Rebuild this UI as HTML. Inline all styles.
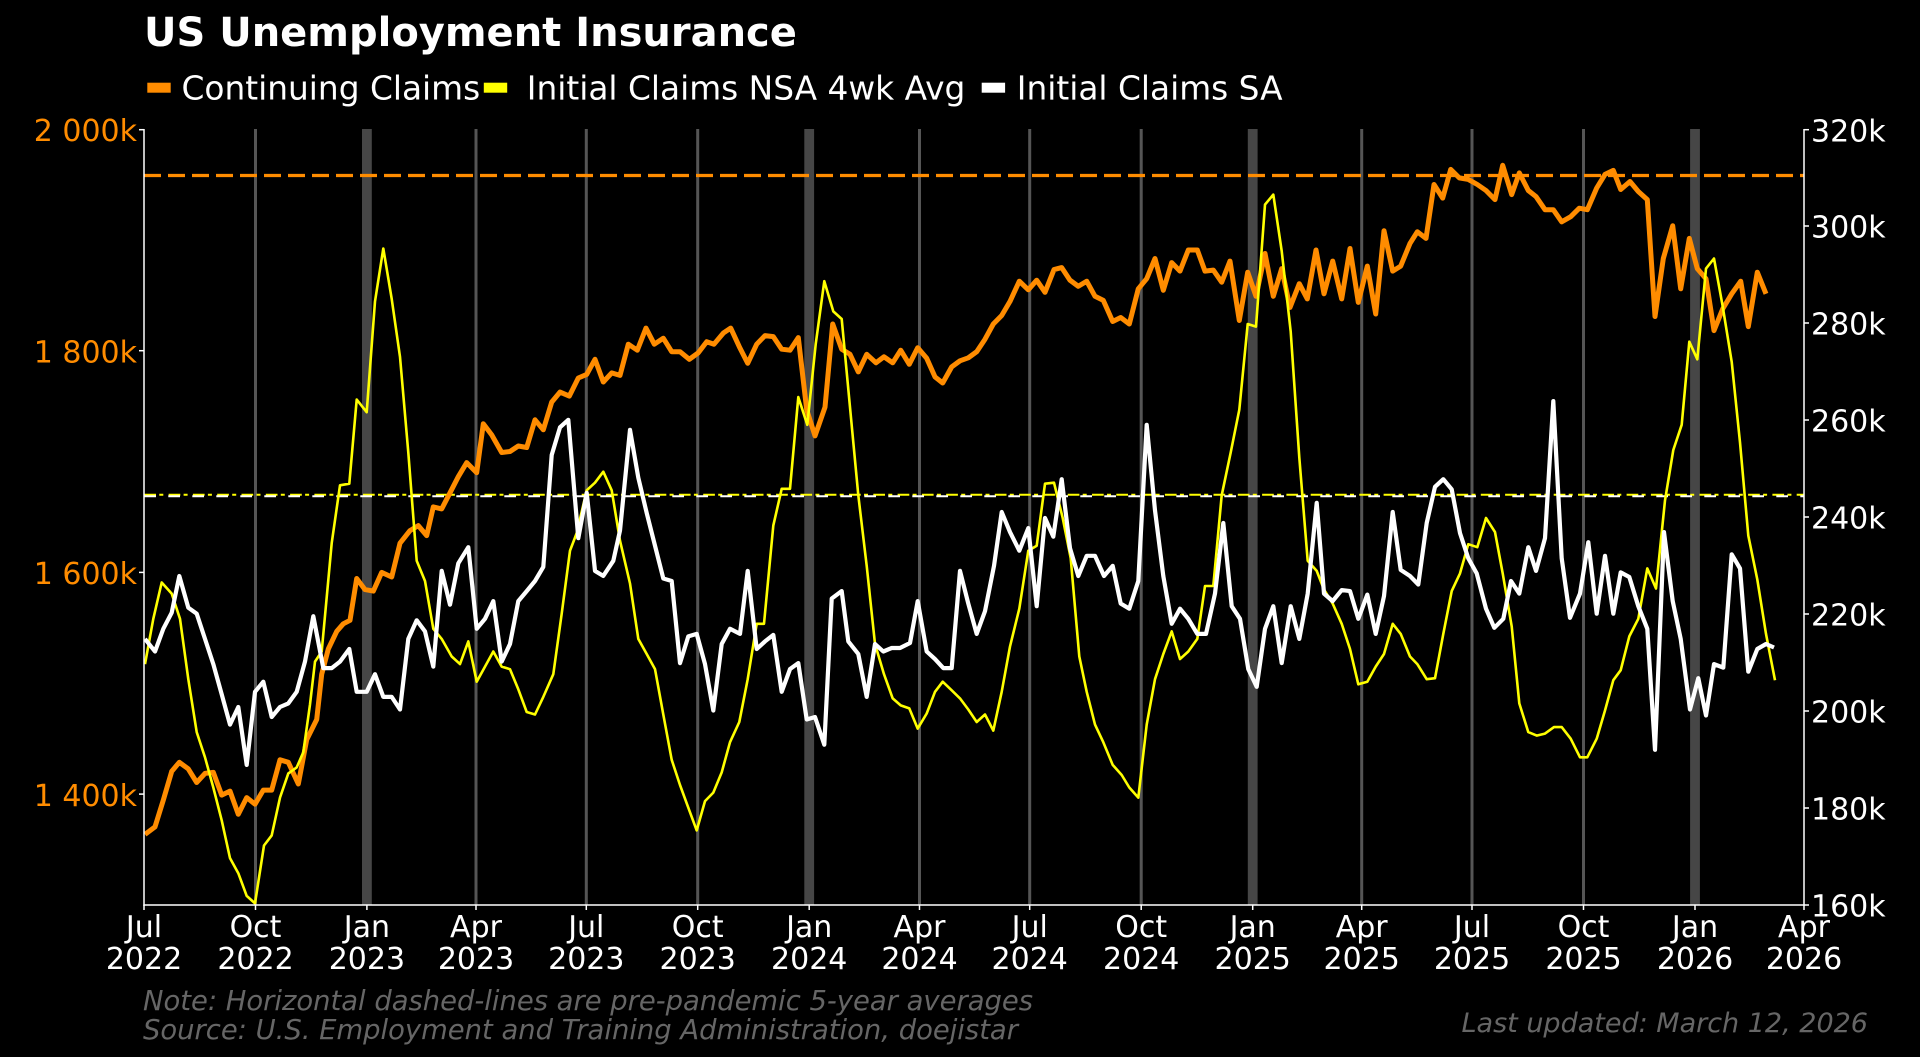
<!DOCTYPE html>
<html>
<head>
<meta charset="utf-8">
<style>
html,body{margin:0;padding:0;background:#000;}
svg{display:block;}
text{font-family:"DejaVu Sans","Liberation Sans",sans-serif;}
</style>
</head>
<body>
<svg width="1920" height="1057" viewBox="0 0 1920 1057" xmlns="http://www.w3.org/2000/svg">
<rect x="0" y="0" width="1920" height="1057" fill="#000"/>

<!-- Title -->
<text x="144" y="46" font-size="40" font-weight="bold" fill="#fff">US Unemployment Insurance</text>

<!-- Legend -->
<rect x="147.3" y="82.7" width="23.4" height="10" fill="#ff8c00"/>
<text x="181.5" y="99.3" font-size="32.8" fill="#fff">Continuing Claims</text>
<rect x="483.8" y="82.7" width="23.4" height="10" fill="#ffff00"/>
<text x="526.8" y="99.3" font-size="32.8" fill="#fff">Initial Claims NSA 4wk Avg</text>
<rect x="981.7" y="82.7" width="23.4" height="10" fill="#ffffff"/>
<text x="1016.8" y="99.3" font-size="32.8" fill="#fff">Initial Claims SA</text>

<!-- Quarterly gridlines -->
<g stroke="#555" stroke-width="3">
<line x1="255.5" y1="129" x2="255.5" y2="905"/>
<line x1="476" y1="129" x2="476" y2="905"/>
<line x1="586.3" y1="129" x2="586.3" y2="905"/>
<line x1="697.7" y1="129" x2="697.7" y2="905"/>
<line x1="919.5" y1="129" x2="919.5" y2="905"/>
<line x1="1029.7" y1="129" x2="1029.7" y2="905"/>
<line x1="1141.2" y1="129" x2="1141.2" y2="905"/>
<line x1="1361.7" y1="129" x2="1361.7" y2="905"/>
<line x1="1472" y1="129" x2="1472" y2="905"/>
<line x1="1583.5" y1="129" x2="1583.5" y2="905"/>
</g>
<!-- Year-end bars -->
<g fill="#464646">
<rect x="362" y="129" width="9.8" height="776"/>
<rect x="804.3" y="129" width="9.8" height="776"/>
<rect x="1247.8" y="129" width="9.8" height="776"/>
<rect x="1690.1" y="129" width="9.8" height="776"/>
</g>

<!-- Pre-pandemic averages -->
<line x1="144" y1="175.5" x2="1804" y2="175.5" stroke="#ff8c00" stroke-width="3.3" stroke-dasharray="17 7"/>
<line x1="144" y1="494.8" x2="1804" y2="494.8" stroke="#ffff00" stroke-width="2" stroke-dasharray="11.7 3.3 4 5.3" stroke-dashoffset="-0.3"/>
<line x1="144" y1="496.3" x2="1804" y2="496.3" stroke="#ffffff" stroke-width="2" stroke-dasharray="11.7 12.3" stroke-dashoffset="-0.3"/>

<!-- Continuing Claims -->
<polyline fill="none" stroke="#ff8c00" stroke-width="5" stroke-linejoin="round" stroke-linecap="butt" points="145,834.4 155,826.9 163.3,800.1 171.7,771.4 179.3,762.3 188.3,768.9 196.7,782.5 205,773.4 213.3,772.4 221.7,795.1 230,791.1 238.3,814.3 246.7,797.6 255,804.2 263.3,790.1 271.7,790.1 280,759.8 288.3,762.3 298.3,784 306.7,739.7 316.7,719.5 321.7,674.2 328.3,649 336.7,631.4 343.3,623.8 350,620.3 356.7,578.5 365,589.6 373.3,591.1 381.7,572.4 391.7,577 400,543.2 410,530.6 418.3,525.6 426.7,535.6 433.3,506.9 441.7,508.9 450,492.8 458.3,476.7 466.7,462.6 476.7,472.7 483.3,423.8 491.7,434.9 501.7,452.5 510,451.5 518.3,446 526.7,447.5 535,419.8 543.3,429.8 551.7,402.1 560,392.1 569.3,396.1 578.3,378 586.7,374.4 595,359.3 603.3,382 611.7,372.9 620,375.4 628.3,344.2 637.3,350.2 646,328.1 654.3,344.2 663.3,338.2 671.7,351.7 680,351.7 689.3,359.3 698.3,352.8 706.7,341.7 714,344.2 723.3,333.1 730.7,328.1 739.3,346.7 747.7,363.3 756.7,344.2 765,335.6 773.3,336.6 781.7,349.2 790,350.2 798.3,337.6 806.7,409.7 815,435.9 825,407.2 832.7,324 841.7,349.2 850,354.3 858.3,371.9 866.7,354.3 876,362.8 884,356.8 892.7,362.8 900.7,350.2 909.3,364.3 917.7,347.7 926.7,358.3 935,376.9 942.7,383 951.7,366.9 960,360.8 968.3,357.8 976.7,351.7 985,339.2 993.3,324 1001.7,315.5 1010,301.4 1019.3,281.2 1028.3,289.8 1036.7,280.2 1045,292.3 1054,269.6 1061.7,267.6 1070,280.2 1078.3,286.3 1086.7,281.2 1095,296.3 1103.3,300.4 1112.7,321.5 1120.7,317.5 1129.3,324 1138.3,288.8 1146.7,278.7 1155,258.5 1163.3,290.3 1171.7,262.6 1180,271.1 1188.3,250 1197.3,250 1205,271.1 1213.3,270.1 1221.7,282.2 1230,261.1 1239.3,320.5 1247.7,272.2 1256,296.3 1265,253.5 1273.3,296.3 1281.7,268.6 1290,307.4 1299.3,283.7 1307.3,298.9 1316,250 1324,293.8 1332.7,261.1 1341.7,298.9 1350,248.5 1358.3,302.4 1367.3,266.1 1375.7,314 1384,230.8 1392.7,271.1 1400.7,266.1 1410,243.4 1417.3,231.8 1426,238.4 1434,184.5 1442.7,198.1 1450.7,169.4 1459.3,177.9 1468.3,179.4 1477.3,184.5 1486,190.5 1495,199.6 1502.7,165.3 1511.7,194.6 1519.3,172.9 1528.3,190.5 1536,196.6 1545,209.7 1553.3,209.7 1561.7,221.8 1570.7,216.7 1579.3,208.2 1587.3,209.7 1596.7,188 1605,174.4 1613.3,170.4 1620.7,189.5 1630,181.5 1638.3,191.5 1647.3,199.6 1655,316.5 1663.3,258.5 1672.7,225.8 1680.7,288.8 1689.3,238.4 1697.3,268.6 1706,278.7 1714,330.6 1722.7,308.9 1731.7,293.8 1740.7,281.2 1748.3,326.6 1757.3,272.2 1766,293.8"/>

<!-- Initial Claims NSA 4wk Avg -->
<polyline fill="none" stroke="#ffff00" stroke-width="2.6" stroke-linejoin="round" points="145,664.1 153.3,618.8 161.7,582.5 171.7,593.6 180,618.8 188.3,679.2 196.7,732.1 205,757.3 213.3,787.5 221.7,820.3 230,858.1 238.3,873.2 246.7,895.9 255,903.4 264,845.5 271.7,835.4 280,797.6 288.3,773.4 296.7,767.4 303.3,752.3 310,704.4 315,661.6 321.7,651.5 331.7,543.2 340,485.3 349.3,483.7 356.7,399.6 366.7,412.2 375,301.4 383.3,248.5 391.7,298.9 400,356.8 408.3,452.5 416.7,560.8 425,581 433.3,628.8 441.7,638.9 451.7,656.5 460,664.1 468.3,641.4 476.7,681.7 485,666.6 493.3,651.5 501.7,666.6 510,669.2 518.3,689.3 526.7,712 535,714.5 543.3,696.9 553.3,674.2 561.7,613.7 570,550.7 576.7,533.1 586.7,490.3 595,482.7 603.3,471.7 611.7,490.3 620,540.7 630,583.5 638.3,638.9 646.7,654 655,669.1 663.3,714.5 671.7,759.8 680,785 688.3,807.7 696.7,830.4 705,801.1 713.3,792.6 721.7,772.4 730,742.2 739.3,722 747.7,679.2 756.7,623.8 764,623.8 773.3,525.6 781.7,488.8 790,488.8 798.3,397.1 807.3,424.8 815.7,344.2 824.3,281.2 833.3,311.4 841.7,319 850,407.2 858.3,495.3 866.7,565.9 875,644 884,674.2 892.7,698.4 900.7,705.4 909.3,708.4 917.7,728.6 926.7,713.5 935,691.8 942.7,681.7 951.7,690.3 960,698.4 968.3,709.5 976.7,722 985,714.5 993.3,730.6 1001.7,691.8 1010,646.5 1019.3,608.7 1028.3,550.7 1036.7,545.7 1045,483.7 1054,482.7 1062.7,518 1070.7,558.3 1079.3,656.5 1086.7,691.8 1095,724.6 1103.3,742.2 1112.7,764.9 1121.7,775 1129.3,787.5 1138.3,797.6 1146.7,724.6 1155,679.2 1163.3,654 1171.7,631.4 1180,659.1 1188.3,651.5 1197.3,638.9 1205,586 1213.3,586 1221.7,495.3 1230.7,452.5 1239.3,409.7 1247.7,324 1256,326.6 1265,204.6 1273.3,194.6 1281.7,251 1290.7,331.6 1299.3,457.5 1307.7,560.8 1316.7,570.9 1324,589.6 1332.7,603.6 1341.7,623.8 1350,649 1358.3,684.3 1367.3,681.7 1375.7,666.6 1384,654 1392.7,623.8 1400.7,633.9 1410,656.5 1417.3,664.1 1426.7,679.2 1435,678.2 1443.3,633.9 1451.7,591.1 1460,573.4 1468.3,544.2 1477.3,547.2 1486,518 1495,532.1 1502.7,573.4 1511.7,626.3 1519.3,703.4 1528.3,732.1 1536.7,735.6 1545,733.6 1554,727.1 1561.7,727.1 1570.7,738.7 1580,757.3 1587.3,757.3 1596.7,738.7 1605,710.5 1613.3,680.2 1620.7,670.2 1629.3,636.4 1638.3,618.8 1647.3,568.4 1656,588.5 1665,500.4 1673.3,450 1681.7,424.8 1689.3,341.7 1697.3,359.3 1706,268.6 1714,258.5 1722.7,306.4 1731.7,361.8 1740,442.4 1748.3,535.6 1757.3,579.5 1766,633.9 1775,680.2"/>

<!-- Initial Claims SA -->
<polyline fill="none" stroke="#ffffff" stroke-width="4.2" stroke-linejoin="round" points="145,638.9 155,651.5 163.3,628.8 171.7,612.7 179.3,576 188.3,607.7 196.7,613.7 205,638.9 213.3,664.1 221.7,694.3 230,724.6 238.3,707 246.7,764.9 255,691.8 263.3,681.7 271.7,717 280,707 288.3,703.4 296.7,691.8 305,661.6 313.3,616.2 323.3,668.1 331.7,668.1 340,661.6 349.3,649 356.7,691.8 366.7,691.8 375,674.2 383.3,696.9 391.7,696.9 400,709.5 408.3,638.9 416.7,620.3 425,631.4 433.3,666.6 441.7,570.9 450,604.7 458.3,563.3 468.3,547.2 476.7,628.8 485,618.8 493.3,601.1 501.7,661.6 510,644 518.3,601.1 526.7,591.1 535,581 543.3,566.9 551.7,455 560,427.3 568.3,419.8 578.3,538.2 586.7,492.8 595,570.9 603.3,575.9 613.3,560.8 620,530.6 630,429.8 638.3,477.7 646.7,513 655,545.7 663.3,578.5 671.7,581 680,663.1 688.3,636.4 696.7,633.9 705,664.1 713.3,710.5 721.7,644 730,628.8 740,633.9 747.7,570.9 756.7,649 765,641.4 773.3,634.9 781.7,691.8 790,669.1 798.3,663.1 806.7,719.5 815,717 824.3,744.7 831.7,598.6 841.7,591.1 848.3,641.4 858.3,654 866.7,696.9 875,644 883.3,651.5 891.7,648 900,648 910,643 917.7,601.1 926.7,651.5 935,659.1 943.3,668.1 951.7,668.1 960,570.9 968.3,603.6 976.7,633.9 985,611.2 994,565.9 1001.7,512 1010,532.1 1019.3,550.7 1028.3,528.1 1036.7,606.2 1045,518 1053.3,536.7 1061.7,479.2 1070,548.2 1078.3,576 1086.7,555.8 1095,555.8 1104,576 1112.7,565.9 1120.7,603.6 1129.3,608.7 1138.3,581 1146.7,424.8 1155,510.4 1163.3,576 1171.7,623.8 1180,608.7 1188.3,618.8 1197.3,633.9 1206,633.9 1215,593.6 1223.3,523 1231.7,606.2 1240,618.8 1248.3,669.1 1256.7,686.8 1265,628.8 1273.3,606.2 1281.7,663.1 1290.7,606.2 1299.3,638.9 1307.7,593.6 1316.7,502.9 1324,593.6 1332.7,601.1 1341.7,590.1 1350,591.1 1358.3,618.8 1367.3,594.6 1375.7,633.9 1384,596.1 1392.7,512 1400.7,569.9 1410,576 1418.3,584.5 1426.7,523 1435,486.8 1443.3,479.2 1451.7,489.3 1460,533.1 1468.3,558.3 1476.7,573.4 1486,608.7 1494.3,627.8 1503.3,618.8 1511,581 1519.3,593.6 1528.3,547.2 1536,570.9 1545,538.2 1553.3,401.1 1561.7,558.3 1570,617.8 1580,593.6 1588.3,542.2 1596.7,613.7 1605,555.8 1613.3,613.7 1620.7,572.4 1629.3,577 1638.3,606.2 1647.3,628.8 1655,749.8 1664,532.1 1672.7,601.1 1680.7,638.9 1690,709.5 1698.3,678.2 1706,715.5 1714,664.1 1723.3,667.6 1731.7,554.3 1740,568.4 1748.3,671.7 1757.3,649 1766,644 1774,647.5"/>

<!-- Spines -->
<g stroke="#fff" stroke-width="1.5">
<line x1="144" y1="129" x2="144" y2="905.7"/>
<line x1="1804" y1="129" x2="1804" y2="905.7"/>
<line x1="143.3" y1="905" x2="1804.7" y2="905"/>
</g>
<!-- Ticks -->
<g stroke="#fff" stroke-width="1.5">
<line x1="139" y1="129.7" x2="144" y2="129.7"/>
<line x1="139" y1="350.7" x2="144" y2="350.7"/>
<line x1="139" y1="572.4" x2="144" y2="572.4"/>
<line x1="139" y1="794.1" x2="144" y2="794.1"/>
<line x1="1804" y1="129.7" x2="1809" y2="129.7"/>
<line x1="1804" y1="226" x2="1809" y2="226"/>
<line x1="1804" y1="323" x2="1809" y2="323"/>
<line x1="1804" y1="420" x2="1809" y2="420"/>
<line x1="1804" y1="517" x2="1809" y2="517"/>
<line x1="1804" y1="614" x2="1809" y2="614"/>
<line x1="1804" y1="711" x2="1809" y2="711"/>
<line x1="1804" y1="808" x2="1809" y2="808"/>
<line x1="1804" y1="905" x2="1809" y2="905"/>
<line x1="144" y1="905" x2="144" y2="910"/>
<line x1="255.5" y1="905" x2="255.5" y2="910"/>
<line x1="366.9" y1="905" x2="366.9" y2="910"/>
<line x1="476" y1="905" x2="476" y2="910"/>
<line x1="586.3" y1="905" x2="586.3" y2="910"/>
<line x1="697.7" y1="905" x2="697.7" y2="910"/>
<line x1="809.2" y1="905" x2="809.2" y2="910"/>
<line x1="919.5" y1="905" x2="919.5" y2="910"/>
<line x1="1029.7" y1="905" x2="1029.7" y2="910"/>
<line x1="1141.2" y1="905" x2="1141.2" y2="910"/>
<line x1="1252.7" y1="905" x2="1252.7" y2="910"/>
<line x1="1361.7" y1="905" x2="1361.7" y2="910"/>
<line x1="1472" y1="905" x2="1472" y2="910"/>
<line x1="1583.5" y1="905" x2="1583.5" y2="910"/>
<line x1="1695" y1="905" x2="1695" y2="910"/>
<line x1="1804" y1="905" x2="1804" y2="910"/>
</g>

<!-- Left tick labels -->
<g font-size="30" fill="#ff8c00" text-anchor="end">
<text x="137" y="141">2 000k</text>
<text x="137" y="362.5">1 800k</text>
<text x="137" y="584">1 600k</text>
<text x="137" y="805.8">1 400k</text>
</g>
<!-- Right tick labels -->
<g font-size="30" fill="#fff" text-anchor="start">
<text x="1811" y="141.5">320k</text>
<text x="1811" y="237.5">300k</text>
<text x="1811" y="334.5">280k</text>
<text x="1811" y="431.5">260k</text>
<text x="1811" y="528.5">240k</text>
<text x="1811" y="625.5">220k</text>
<text x="1811" y="722.5">200k</text>
<text x="1811" y="819.5">180k</text>
<text x="1811" y="916.5">160k</text>
</g>
<!-- X tick labels -->
<g font-size="30" fill="#fff" text-anchor="middle">
<text x="144" y="937">Jul</text><text x="144" y="969">2022</text>
<text x="255.5" y="937">Oct</text><text x="255.5" y="969">2022</text>
<text x="366.9" y="937">Jan</text><text x="366.9" y="969">2023</text>
<text x="476" y="937">Apr</text><text x="476" y="969">2023</text>
<text x="586.3" y="937">Jul</text><text x="586.3" y="969">2023</text>
<text x="697.7" y="937">Oct</text><text x="697.7" y="969">2023</text>
<text x="809.2" y="937">Jan</text><text x="809.2" y="969">2024</text>
<text x="919.5" y="937">Apr</text><text x="919.5" y="969">2024</text>
<text x="1029.7" y="937">Jul</text><text x="1029.7" y="969">2024</text>
<text x="1141.2" y="937">Oct</text><text x="1141.2" y="969">2024</text>
<text x="1252.7" y="937">Jan</text><text x="1252.7" y="969">2025</text>
<text x="1361.7" y="937">Apr</text><text x="1361.7" y="969">2025</text>
<text x="1472" y="937">Jul</text><text x="1472" y="969">2025</text>
<text x="1583.5" y="937">Oct</text><text x="1583.5" y="969">2025</text>
<text x="1695" y="937">Jan</text><text x="1695" y="969">2026</text>
<text x="1804" y="937">Apr</text><text x="1804" y="969">2026</text>
</g>

<!-- Footnotes -->
<g font-style="italic" fill="#666">
<text x="143" y="1010" font-size="27.4">Note: Horizontal dashed-lines are pre-pandemic 5-year averages</text>
<text x="143" y="1039" font-size="27.4">Source: U.S. Employment and Training Administration, doejistar</text>
<text x="1868" y="1032" font-size="27" text-anchor="end">Last updated: March 12, 2026</text>
</g>
</svg>
</body>
</html>
